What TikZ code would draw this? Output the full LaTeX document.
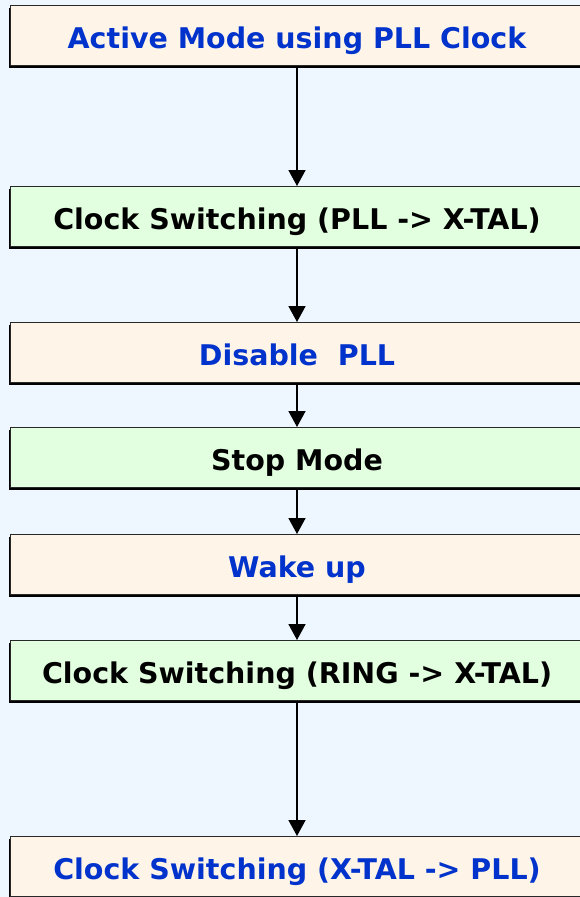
\documentclass[tikz,border=0pt]{standalone}
\usepackage{fontspec}
\setmainfont{DejaVu Sans}
\usetikzlibrary{arrows.meta,shadows}
\definecolor{bgblue}{RGB}{238,247,255}
\definecolor{peach}{RGB}{255,244,232}
\definecolor{lgreen}{RGB}{226,255,224}
\definecolor{txtblue}{RGB}{0,51,204}
\definecolor{edge}{RGB}{40,40,40}
\tikzset{
  x=1pt,y=1pt,
  boxbase/.style={draw=edge,line width=1pt,anchor=north west,minimum width=573pt,minimum height=60pt,
    inner sep=0pt,font=\fontsize{28.5}{31}\selectfont\bfseries,
    drop shadow={shadow xshift=-1.5pt,shadow yshift=-2pt,opacity=1,fill=black}},
  peachbox/.style={boxbase,fill=peach,text=txtblue},
  greenbox/.style={boxbase,fill=lgreen,text=black},
  flow/.style={line width=1.6pt,-{Triangle[length=16pt,width=17pt]}}
}
\newcommand{\boxtxt}[1]{\raisebox{-12.5pt}[0pt][0pt]{#1}}
\begin{document}
\begin{tikzpicture}
\fill[bgblue] (0,0) rectangle (580,-897);
\useasboundingbox (0,0) rectangle (580,-897);
\node[peachbox] (a) at (10,-5) {\boxtxt{Active Mode using PLL Clock}};
\node[greenbox] (b) at (10,-186) {\boxtxt{Clock Switching (PLL -> X-TAL)}};
\node[peachbox] (c) at (10,-322) {\boxtxt{Disable\ \ PLL}};
\node[greenbox] (d) at (10,-427) {\boxtxt{Stop Mode}};
\node[peachbox] (e) at (10,-534) {\boxtxt{Wake up}};
\node[greenbox] (f) at (10,-640) {\boxtxt{Clock Switching (RING -> X-TAL)}};
\node[peachbox] (g) at (10,-836) {\boxtxt{Clock Switching (X-TAL -> PLL)}};
\draw[flow] (a.south) -- (b.north);
\draw[flow] (b.south) -- (c.north);
\draw[flow] (c.south) -- (d.north);
\draw[flow] (d.south) -- (e.north);
\draw[flow] (e.south) -- (f.north);
\draw[flow] (f.south) -- (g.north);
\end{tikzpicture}
\end{document}
